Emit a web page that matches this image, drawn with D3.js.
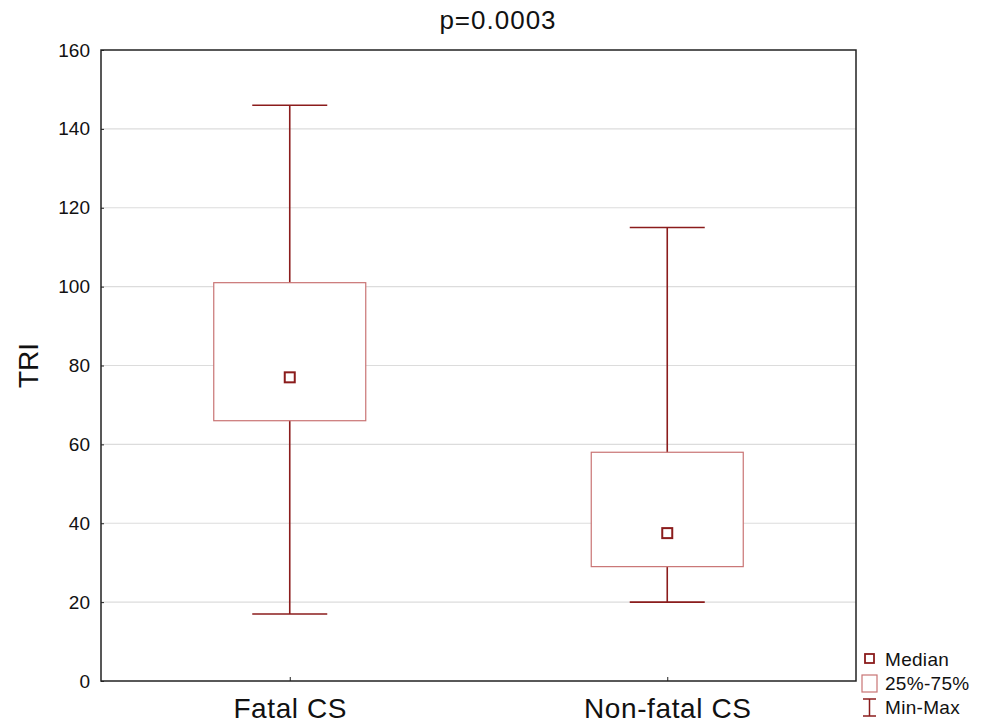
<!DOCTYPE html>
<html>
<head>
<meta charset="utf-8">
<script src="https://cdn.jsdelivr.net/npm/d3@7"></script>
<style>
  body { margin: 0; background: #fff; }
  text { font-family: "Liberation Sans", Arial, sans-serif; fill: #111; }
</style>
</head>
<body>
<div id="chart"></div>
<script>
// chart data
var groups = ["Fatal CS", "Non-fatal CS"];
var minVals = [17, 20];
var q1Vals = [66, 29];
var medianVals = [77, 37.5];
var q3Vals = [101, 58];
var maxVals = [146, 115];
var yTicks = [0, 20, 40, 60, 80, 100, 120, 140, 160];
var title = "p=0.0003";
var yLabel = "TRI";
var legendLabels = ["Median", "25%-75%", "Min-Max"];

var w = 988, h = 723;
var margin = {top: 50, right: 132, bottom: 42, left: 101};
var innerW = w - margin.left - margin.right;
var innerH = h - margin.top - margin.bottom;

var darkRed = "#8b1c1c";
var boxRed = "#c97474";

var svg = d3.select("#chart").append("svg")
  .attr("width", w)
  .attr("height", h);

var g = svg.append("g")
  .attr("transform", "translate(" + margin.left + "," + margin.top + ")");

var x = d3.scalePoint().domain(groups).range([0, innerW]).padding(0.5);
var y = d3.scaleLinear().domain([0, 160]).range([innerH, 0]);

var boxW = 152, capW = 75;

//Gridlines
g.selectAll(".grid")
  .data(yTicks.filter(function(d) { return d > 0 && d < 160; }))
  .enter()
  .append("line")
  .attr("x1", 0).attr("x2", innerW)
  .attr("y1", function(d) { return y(d); })
  .attr("y2", function(d) { return y(d); })
  .attr("stroke", "#dcdcdc")
  .attr("stroke-width", 1.2);

//Axes
var yAxis = g.append("g")
  .call(d3.axisLeft(y).tickValues(yTicks).tickSize(-3).tickPadding(11));
yAxis.select(".domain").remove();
yAxis.selectAll("line").attr("stroke", "#222");
yAxis.selectAll("text").style("font-size", "19px").attr("fill", "#111");

var xAxis = g.append("g")
  .attr("transform", "translate(0," + innerH + ")")
  .call(d3.axisBottom(x).tickSize(-4).tickPadding(17));
xAxis.select(".domain").remove();
xAxis.selectAll("line").attr("stroke", "#222");
xAxis.selectAll("text")
  .style("font-size", "28px")
  .style("letter-spacing", "0.6px")
  .attr("fill", "#111");

//Whiskers
var idx = d3.range(groups.length);
g.selectAll(".whisker")
  .data(idx)
  .enter()
  .append("line")
  .attr("x1", function(i) { return x(groups[i]); })
  .attr("x2", function(i) { return x(groups[i]); })
  .attr("y1", function(i) { return y(minVals[i]); })
  .attr("y2", function(i) { return y(maxVals[i]); })
  .attr("stroke", darkRed)
  .attr("stroke-width", 1.6);

[minVals, maxVals].forEach(function(vals) {
  g.selectAll(null)
    .data(idx)
    .enter()
    .append("line")
    .attr("x1", function(i) { return x(groups[i]) - capW / 2; })
    .attr("x2", function(i) { return x(groups[i]) + capW / 2; })
    .attr("y1", function(i) { return y(vals[i]); })
    .attr("y2", function(i) { return y(vals[i]); })
    .attr("stroke", darkRed)
    .attr("stroke-width", 1.6);
});

//Boxes
g.selectAll(".box")
  .data(idx)
  .enter()
  .append("rect")
  .attr("x", function(i) { return x(groups[i]) - boxW / 2; })
  .attr("y", function(i) { return y(q3Vals[i]); })
  .attr("width", boxW)
  .attr("height", function(i) { return y(q1Vals[i]) - y(q3Vals[i]); })
  .attr("fill", "#fff")
  .attr("stroke", boxRed)
  .attr("stroke-width", 1.2);

//Medians
g.selectAll(".median")
  .data(idx)
  .enter()
  .append("rect")
  .attr("x", function(i) { return x(groups[i]) - 5; })
  .attr("y", function(i) { return y(medianVals[i]) - 5; })
  .attr("width", 10)
  .attr("height", 10)
  .attr("fill", "#fff")
  .attr("stroke", darkRed)
  .attr("stroke-width", 2);

//Frame
g.append("rect")
  .attr("width", innerW)
  .attr("height", innerH)
  .attr("fill", "none")
  .attr("stroke", "#222")
  .attr("stroke-width", 1.5);

//Title and y label
svg.append("text")
  .attr("x", 498)
  .attr("y", 29)
  .attr("text-anchor", "middle")
  .style("font-size", "26px")
  .style("letter-spacing", "1px")
  .text(title);

svg.append("text")
  .attr("transform", "translate(38," + (margin.top + innerH / 2) + ") rotate(-90)")
  .attr("text-anchor", "middle")
  .style("font-size", "28px")
  .text(yLabel);

//Legend
var lg = svg.append("g").attr("transform", "translate(862,650)");
lg.append("rect")
  .attr("x", 3).attr("y", 4).attr("width", 9).attr("height", 9)
  .attr("fill", "#fff").attr("stroke", darkRed).attr("stroke-width", 1.8);
lg.append("rect")
  .attr("x", 0).attr("y", 25).attr("width", 15).attr("height", 17)
  .attr("fill", "#fff").attr("stroke", boxRed).attr("stroke-width", 1.2);
lg.append("line")
  .attr("x1", 7.5).attr("x2", 7.5).attr("y1", 49).attr("y2", 66)
  .attr("stroke", darkRed).attr("stroke-width", 1.5);
lg.append("line")
  .attr("x1", 1).attr("x2", 14).attr("y1", 49).attr("y2", 49)
  .attr("stroke", darkRed).attr("stroke-width", 1.5);
lg.append("line")
  .attr("x1", 1).attr("x2", 14).attr("y1", 66).attr("y2", 66)
  .attr("stroke", darkRed).attr("stroke-width", 1.5);
lg.selectAll(".legtext")
  .data(legendLabels)
  .enter()
  .append("text")
  .attr("x", 23)
  .attr("y", function(d, i) { return 16 + i * 24; })
  .style("font-size", "19px")
  .style("letter-spacing", "0.3px")
  .text(function(d) { return d; });
</script>
</body>
</html>
